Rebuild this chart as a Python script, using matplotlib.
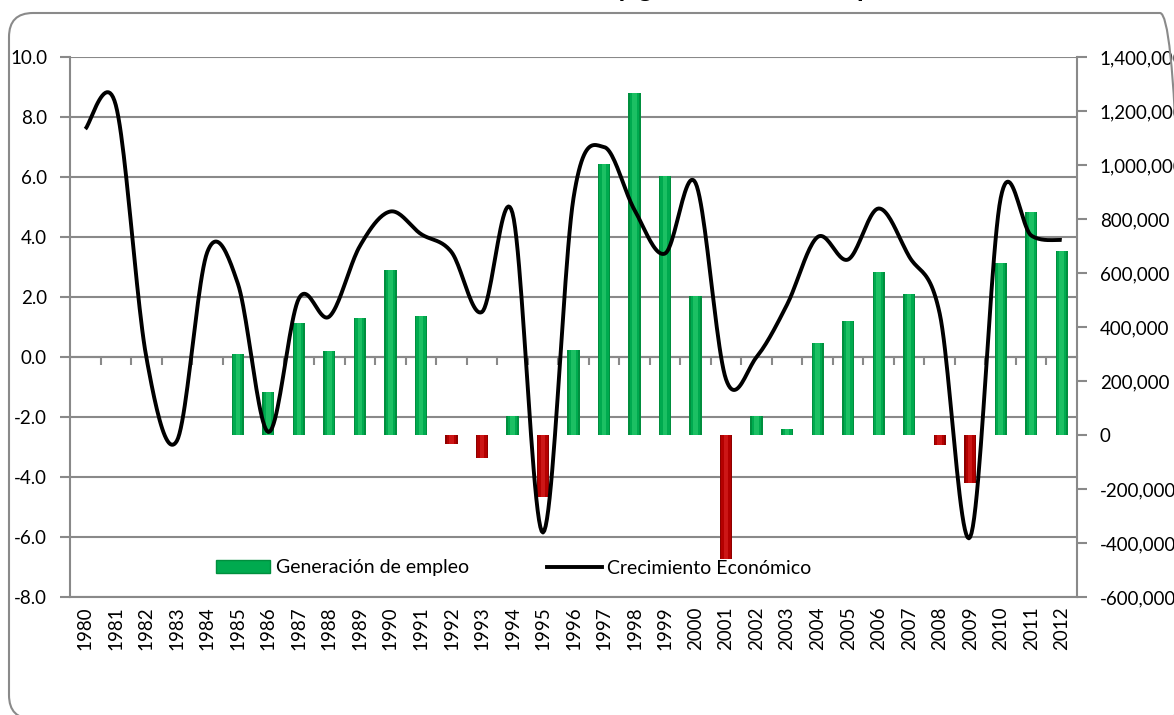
import numpy as np
import matplotlib
matplotlib.use("Agg")
import matplotlib.pyplot as plt
from matplotlib.patches import FancyBboxPatch, Patch
from matplotlib.lines import Line2D
from matplotlib.ticker import FuncFormatter
import matplotlib.transforms as mtransforms

# ---------------- data ----------------
years = ["1980", "1981", "1982", "1983", "1984", "1985", "1986", "1987", "1988",
         "1989", "1990", "1991", "1992", "1993", "1994", "1995", "1996", "1997",
         "1998", "1999", "2000", "2001", "2002", "2003", "2004", "2005", "2006",
         "2007", "2008", "2009", "2010", "2011", "2012"]

# Crecimiento económico (%), left axis
growth = [7.6, 8.4, 0.0, -2.8, 3.5, 2.45, -2.5, 1.95, 1.35, 3.7, 4.85, 4.1,
          3.5, 1.5, 4.8, -5.85, 5.3, 7.0, 4.9, 3.45, 5.8, -0.75, 0.0, 1.75,
          4.0, 3.25, 4.95, 3.35, 1.45, -6.0, 5.3, 4.05, 3.9]

# Generación de empleo (personas), right axis
jobs = [None, None, None, None, None, 300000, 160000, 415000, 312000, 433000,
        612000, 440000, -35000, -86000, 70000, -228000, 315000, 1004000,
        1268000, 959000, 515000, -458000, 70000, 21000, 342000, 422000,
        602000, 522000, -37000, -179000, 638000, 827000, 681000]

title = "Crecimiento económico y generación de empleo"
label_jobs = "Generación de empleo"
label_growth = "Crecimiento Económico"

# ---------------- style ----------------
plt.rcParams["font.family"] = ["Lato", "DejaVu Sans"]
GRID = "#898989"
FS = 13.5

W, H = 1174, 715
fig = plt.figure(figsize=(W / 100, H / 100), dpi=100)
fig.patch.set_facecolor("white")

ax = fig.add_axes([70 / W, 1 - 597 / H, (1077 - 70) / W, (597 - 57) / H])
ax2 = ax.twinx()

x = np.arange(len(years))
ax.set_xlim(-0.5, len(years) - 0.5)
ax.set_ylim(-8, 10)
ax2.set_ylim(-600000, 1400000)

# grid / left axis
ax.set_yticks(np.arange(-8, 10.1, 2))
ax.yaxis.set_major_formatter(FuncFormatter(lambda v, p: f"{v:.1f}"))
ax.grid(axis="y", color=GRID, linewidth=1.5)
ax.grid(axis="x", visible=False)
ax.set_axisbelow(True)
ax.tick_params(axis="y", direction="out", length=7, width=1.5, color=GRID,
               pad=9.5, labelsize=FS, labelcolor="black")
ax.set_xticks(x)
ax.set_xticklabels(years, rotation=90, fontsize=FS)
ax.tick_params(axis="x", length=0, pad=6.5)
for s in ["top", "right"]:
    ax.spines[s].set_visible(False)
for s in ["left", "bottom"]:
    ax.spines[s].set_color(GRID)
    ax.spines[s].set_linewidth(1.5)

# category axis crossing at 0
sec = ax.secondary_xaxis((0 - (-8)) / 18)
sec.set_xticks(np.arange(0.5, len(years) - 0.5, 1))
sec.set_xticklabels([])
sec.tick_params(axis="x", direction="out", length=6, width=1.5, color=GRID)
for s in sec.spines.values():
    s.set_color(GRID)
    s.set_linewidth(1.5)

# right axis
ax2.set_yticks(np.arange(-600000, 1400001, 200000))
ax2.yaxis.set_major_formatter(FuncFormatter(lambda v, p: f"{v:,.0f}"))
ax2.tick_params(axis="y", direction="out", length=7, width=1.5, color=GRID,
                pad=9.5, labelsize=FS, labelcolor="black")
for s in ["top", "left", "bottom"]:
    ax2.spines[s].set_visible(False)
ax2.spines["right"].set_color(GRID)
ax2.spines["right"].set_linewidth(1.5)

# bars with a simple cylindrical shading
jv = np.array([np.nan if v is None else v for v in jobs], dtype=float)
pos = np.where(jv >= 0, jv, np.nan)
neg = np.where(jv < 0, jv, np.nan)
layers = [(0.40, "#008F3E", "#8E0000"), (0.30, "#00AA4F", "#B40000"),
          (0.15, "#1CC063", "#CC1616")]
for w, cg, cr in layers:
    ax2.bar(x, pos, width=w, color=cg, linewidth=0, zorder=2)
    ax2.bar(x, neg, width=w, color=cr, linewidth=0, zorder=2)


# smoothed growth line (Excel style bezier smoothing)
def smooth(xs, ys, n=24):
    P = np.column_stack([xs, ys]).astype(float)
    out = []
    for i in range(len(P) - 1):
        p0 = P[i - 1] if i > 0 else P[i]
        p1, p2 = P[i], P[i + 1]
        p3 = P[i + 2] if i + 2 < len(P) else P[i + 1]
        c1 = p1 + (p2 - p0) / 6.0
        c2 = p2 - (p3 - p1) / 6.0
        t = np.linspace(0, 1, n)[:, None]
        seg = ((1 - t) ** 3) * p1 + 3 * ((1 - t) ** 2) * t * c1 \
            + 3 * (1 - t) * t ** 2 * c2 + t ** 3 * p2
        out.append(seg if i == 0 else seg[1:])
    return np.vstack(out)


curve = smooth(x, growth)
ax2.plot(curve[:, 0], curve[:, 1], color="black", linewidth=2.8,
         transform=ax.transData, zorder=3, solid_capstyle="butt")

# legend
handles = [Patch(facecolor="#00AA4F", edgecolor="#008F3E", label=label_jobs),
           Line2D([], [], color="black", linewidth=2.8, label=label_growth)]
ax2.legend(handles=handles, ncol=2, frameon=False, loc="center left",
           bbox_to_anchor=((216 - 70) / 1007, (597 - 568) / 540),
           borderpad=0, borderaxespad=0, handlelength=2.8, handleheight=0.65,
           handletextpad=0.3, columnspacing=4.0, fontsize=14)

# cut-off title and rounded chart frame
fig.text(614 / W, 1.0 + 4 / H, title, ha="center", va="baseline",
         fontsize=20, fontweight="bold", color="black")
frame = FancyBboxPatch((9, -4), 1175, 702 + 4, boxstyle="round,pad=0,rounding_size=24",
                       transform=mtransforms.IdentityTransform(),
                       facecolor="none", edgecolor="#8a8a8a", linewidth=1.5)
fig.patches.append(frame)

fig.savefig("out.png", dpi=100)
